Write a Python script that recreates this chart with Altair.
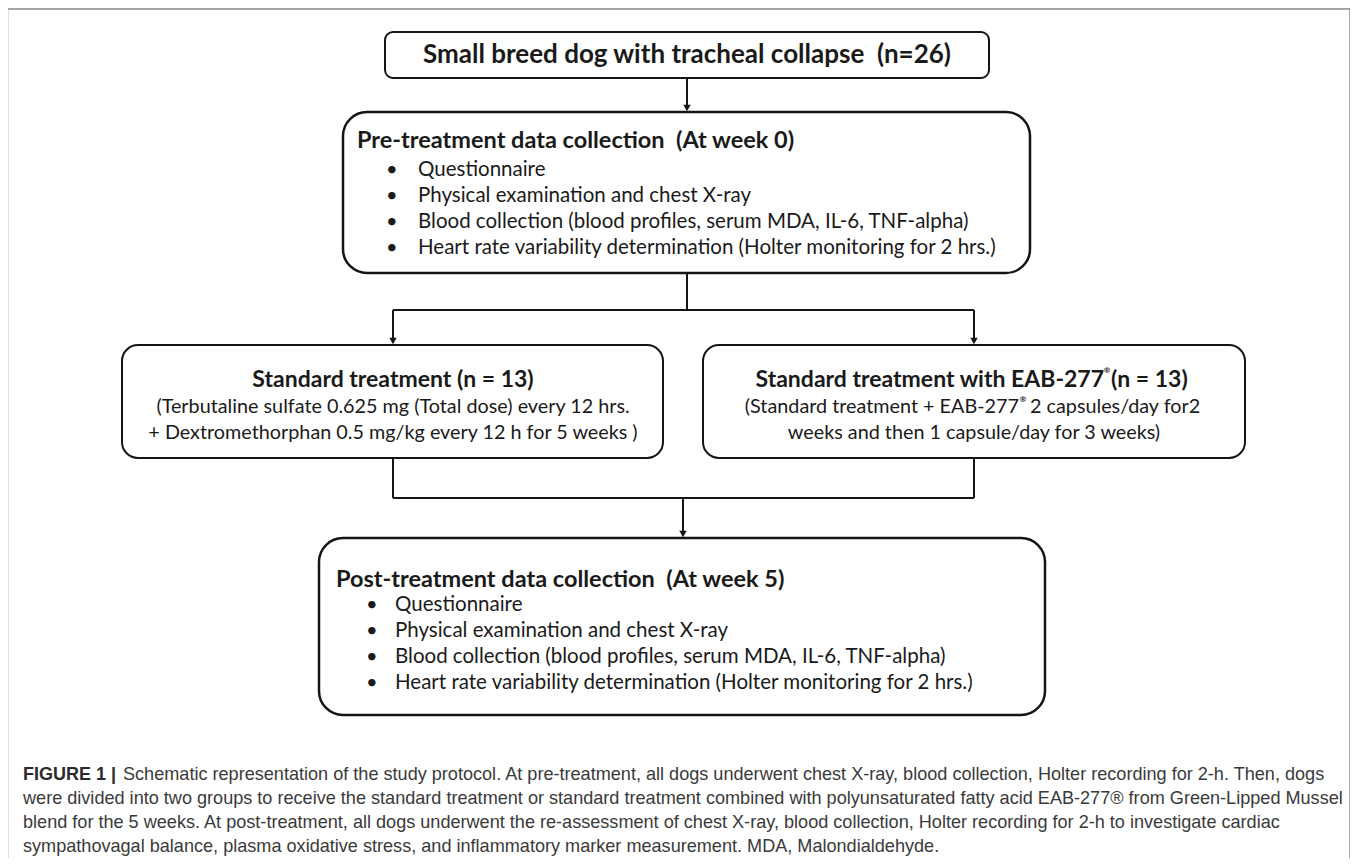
import altair as alt
import pandas as pd

# ---------------- text content ----------------
top_title = "Small breed dog with tracheal collapse\u00a0 (n=26)"
pre_title = "Pre-treatment data collection\u00a0 (At week 0)"
post_title = "Post-treatment data collection\u00a0 (At week 5)"
bullet_items = [
    "Questionnaire",
    "Physical examination and chest X-ray",
    "Blood collection (blood profiles, serum MDA, IL-6, TNF-alpha)",
    "Heart rate variability determination (Holter monitoring for 2 hrs.)",
]
std_title = "Standard treatment (n = 13)"
std_lines = [
    "(Terbutaline sulfate 0.625 mg (Total dose) every 12 hrs.",
    "+ Dextromethorphan 0.5 mg/kg every 12 h for 5 weeks )",
]
eab_title_parts = ["Standard treatment with EAB-277", "\u00ae", "(n = 13)"]
eab_line1_parts = ["(Standard treatment + EAB-277", "\u00ae", "2 capsules/day for2"]
eab_line2 = "weeks and then 1 capsule/day for 3 weeks)"
caption_lead = "FIGURE 1 |"
caption_lines = [
    "Schematic representation of the study protocol. At pre-treatment, all dogs underwent chest X-ray, blood collection, Holter recording for 2-h. Then, dogs",
    "were divided into two groups to receive the standard treatment or standard treatment combined with polyunsaturated fatty acid EAB-277\u00ae from Green-Lipped Mussel",
    "blend for the 5 weeks. At post-treatment, all dogs underwent the re-assessment of chest X-ray, blood collection, Holter recording for 2-h to investigate cardiac",
    "sympathovagal balance, plasma oxidative stress, and inflammatory marker measurement. MDA, Malondialdehyde.",
]

# ---------------- layout (page pixels) ----------------
top_box = [385, 989, 32, 78]
pre_box = [343, 1030, 112, 273]
std_box = [122, 663, 345, 458]
eab_box = [703, 1245, 345, 458]
post_box = [319, 1045, 538, 715]
pre_rows = [170, 196, 222, 248]
post_rows = [605, 631, 657, 683]
caption_rows = [775, 799, 823, 847]

XS = alt.Scale(domain=[8, 1350], nice=False, zero=False)
YS = alt.Scale(domain=[8, 858], nice=False, zero=False, reverse=True)


def enc_xy():
    return dict(x=alt.X("x:Q", scale=XS, axis=None), y=alt.Y("y:Q", scale=YS, axis=None))


def boxes(rows, radius, sw):
    df = pd.DataFrame(rows, columns=["x", "x1", "y", "y1"])
    return alt.Chart(df).mark_rect(
        cornerRadius=radius, fill="white", stroke="#151515", strokeWidth=sw
    ).encode(x2="x1:Q", y2="y1:Q", **enc_xy())


def lines(segs, sw=2, color="#151515"):
    df = pd.DataFrame(segs, columns=["x", "y", "x1", "y1"])
    return alt.Chart(df).mark_rule(color=color, strokeWidth=sw).encode(
        x2="x1:Q", y2="y1:Q", **enc_xy()
    )


def heads(pts):
    df = pd.DataFrame(pts, columns=["x", "y"])
    return alt.Chart(df).mark_point(
        shape="triangle-down", filled=True, color="#151515", size=55, opacity=1
    ).encode(**enc_xy())


def texts(rows, size, weight="normal", align="left", color="#1a1a1a", font="Lato"):
    df = pd.DataFrame(rows, columns=["x", "y", "t"])
    return alt.Chart(df).mark_text(
        font=font, fontSize=size, fontWeight=weight, align=align,
        baseline="middle", color=color
    ).encode(text="t:N", **enc_xy())


frame = lines([[6, 9, 1350, 9], [6, 9, 6, 858], [1350, 9, 1350, 858]], sw=1.5, color="#8c8c8c")

connectors = lines([
    [687, 78, 687, 108],
    [687, 273, 687, 310],
    [393, 310, 974, 310],
    [393, 310, 393, 341],
    [974, 310, 974, 341],
    [393, 458, 393, 498],
    [974, 458, 974, 498],
    [393, 498, 974, 498],
    [683, 498, 683, 534],
])
arrowheads = heads([[687, 108], [393, 341], [974, 341], [683, 534]])

box_layers = [
    boxes([top_box], 8, 2),
    boxes([pre_box, post_box], 24, 2.5),
    boxes([std_box, eab_box], 16, 2),
]

top_text = texts([[687, 55, top_title]], 26, "bold", "center")

std_title_t = texts([[393, 380, std_title]], 23, "bold", "center")
eab_title_l = texts([[1104, 380, eab_title_parts[0]]], 23, "bold", "right")
eab_title_r = texts([[1111, 380, eab_title_parts[2]]], 23, "bold", "left")
eab_marks = texts([
    [1107, 371, eab_title_parts[1]],
    [1023, 400, eab_line1_parts[1]],
], 8, "bold", "center")

bold_left = texts([
    [357, 141, pre_title],
    [336, 580, post_title],
], 23.5, "bold", "left")

reg_center = texts([
    [393, 407, std_lines[0]],
    [393, 433, std_lines[1]],
    [974, 433, eab_line2],
], 19.8, "normal", "center")
eab_l1_l = texts([[1019, 407, eab_line1_parts[0]]], 19.8, "normal", "right")
eab_l1_r = texts([[1030, 407, eab_line1_parts[2]]], 19.8, "normal", "left")

bullet_rows = []
item_rows = []
for y in pre_rows:
    bullet_rows.append([386, y, "\u2022"])
for y in post_rows:
    bullet_rows.append([366, y, "\u2022"])
for i, y in enumerate(pre_rows):
    item_rows.append([418, y, bullet_items[i]])
for i, y in enumerate(post_rows):
    item_rows.append([395, y, bullet_items[i]])
bullets = texts(bullet_rows, 20, "normal", "left")
items = texts(item_rows, 20.5, "normal", "left")

cap_lead = texts([[23, caption_rows[0], caption_lead]], 18, "bold", "left",
                 color="#2b2b2b", font="Liberation Sans")
cap_rows = [[123, caption_rows[0], caption_lines[0]]] + [
    [23, caption_rows[i], caption_lines[i]] for i in range(1, 4)
]
cap = texts(cap_rows, 18.1, "normal", "left", color="#3a3a3a", font="Liberation Sans")

chart = alt.layer(
    frame, connectors, arrowheads, *box_layers,
    top_text, std_title_t, eab_title_l, eab_title_r, eab_marks,
    bold_left, reg_center, eab_l1_l, eab_l1_r, bullets, items, cap_lead, cap
).properties(
    width=1342, height=850, padding=0,
    autosize=alt.AutoSizeParams(type="none"),
).configure_view(strokeWidth=0).configure(background="white")

chart.save("out.html", embed_options={"renderer": "svg", "actions": False})
